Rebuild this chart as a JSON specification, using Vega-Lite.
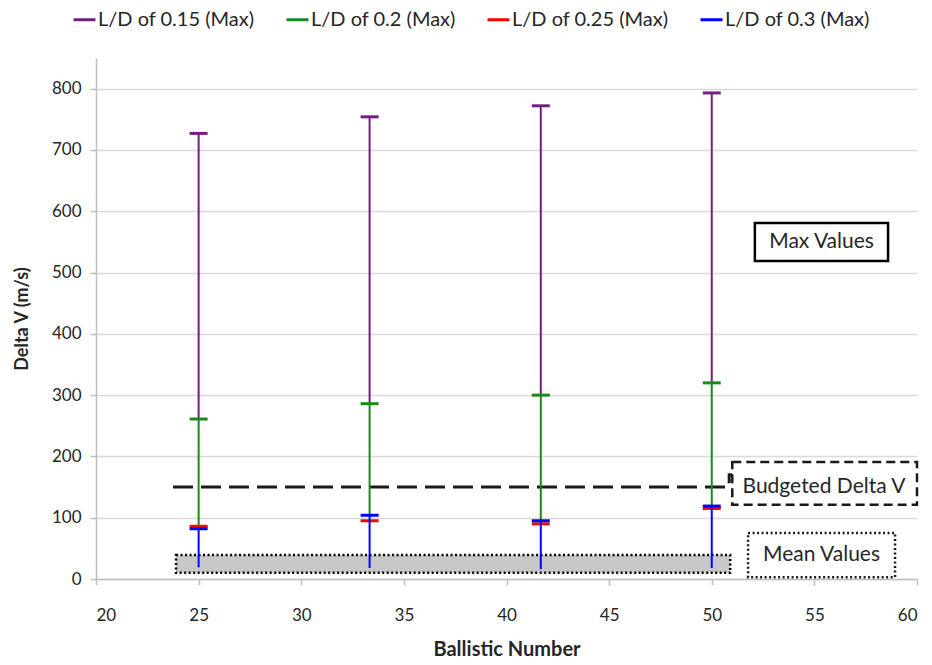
{
  "$schema": "https://vega.github.io/schema/vega-lite/v6.json",
  "width": 821,
  "height": 521,
  "autosize": {"type": "none"},
  "padding": {"left": 96, "top": 58, "right": 15, "bottom": 86},
  "background": "white",
  "config": {
    "font": "Lato",
    "view": {"stroke": null},
    "axis": {"labelFont": "Lato", "titleFont": "Lato", "labelColor": "#262626", "titleColor": "#262626"},
    "legend": {"labelFont": "Lato", "labelColor": "#262626"}
  },
  "datasets": {
    "series": [
      {"series": "L/D of 0.15 (Max)", "bn": 25, "low": 261, "max": 727},
      {"series": "L/D of 0.15 (Max)", "bn": 33.33, "low": 286, "max": 754},
      {"series": "L/D of 0.15 (Max)", "bn": 41.67, "low": 300, "max": 772},
      {"series": "L/D of 0.15 (Max)", "bn": 50, "low": 320, "max": 793},
      {"series": "L/D of 0.2 (Max)", "bn": 25, "low": 86, "max": 261},
      {"series": "L/D of 0.2 (Max)", "bn": 33.33, "low": 104, "max": 286},
      {"series": "L/D of 0.2 (Max)", "bn": 41.67, "low": 95, "max": 300},
      {"series": "L/D of 0.2 (Max)", "bn": 50, "low": 119, "max": 320},
      {"series": "L/D of 0.25 (Max)", "bn": 25, "low": 82, "max": 86},
      {"series": "L/D of 0.25 (Max)", "bn": 33.33, "low": 95, "max": 95},
      {"series": "L/D of 0.25 (Max)", "bn": 41.67, "low": 90, "max": 90},
      {"series": "L/D of 0.25 (Max)", "bn": 50, "low": 115, "max": 115},
      {"series": "L/D of 0.3 (Max)", "bn": 25, "low": 19, "max": 82},
      {"series": "L/D of 0.3 (Max)", "bn": 33.33, "low": 18, "max": 104},
      {"series": "L/D of 0.3 (Max)", "bn": 41.67, "low": 16, "max": 95},
      {"series": "L/D of 0.3 (Max)", "bn": 50, "low": 18, "max": 119}
    ],
    "budget": [
      {"bn": 23.75, "dv": 150, "k": 1},
      {"bn": 50.85, "dv": 150, "k": 2},
      {"bn": 50.85, "dv": 170, "k": 3},
      {"bn": 51.0, "dv": 170, "k": 4}
    ],
    "meanband": [{"bn": 23.9, "bn2": 50.9, "dv": 10, "dv2": 39}],
    "budgetbox": [{"bn": 51.0, "bn2": 60, "dv": 121, "dv2": 191, "xc": 55.47, "yc": 150, "label": "Budgeted Delta V"}],
    "meanbox": [{"bn": 51.77, "bn2": 58.93, "dv": 3, "dv2": 75, "xc": 55.35, "yc": 39, "label": "Mean Values"}],
    "maxbox": [{"bn": 52.1, "bn2": 58.59, "dv": 519, "dv2": 581, "xc": 55.35, "yc": 550, "label": "Max Values"}]
  },
  "layer": [
    {
      "data": {"name": "meanband"},
      "mark": {"type": "rect", "fill": "#c8c8c8", "stroke": "#000000", "strokeDash": [2, 2.5], "strokeWidth": 2.5},
      "encoding": {
        "x": {"field": "bn", "type": "quantitative", "scale": {"domain": [20, 60], "nice": false},
          "axis": {"values": [20, 25, 30, 35, 40, 45, 50, 55, 60], "grid": false, "domainColor": "#bfbfbf", "domainWidth": 1.5, "tickColor": "#bfbfbf", "tickWidth": 1.5, "tickSize": 6, "labelFontSize": 17, "labelPadding": 22, "title": "Ballistic Number", "titleFontSize": 20, "titleFontWeight": "bold", "titlePadding": 16}},
        "x2": {"field": "bn2"},
        "y": {"field": "dv", "type": "quantitative", "scale": {"domain": [0, 850], "nice": false},
          "axis": {"values": [0, 100, 200, 300, 400, 500, 600, 700, 800], "grid": true, "gridColor": "#d9d9d9", "gridWidth": 1.5, "domainColor": "#bfbfbf", "domainWidth": 1.5, "tickColor": "#bfbfbf", "tickWidth": 1.5, "tickSize": 6, "labelFontSize": 17, "labelPadding": 9, "title": "Delta V (m/s)", "titleFontSize": 18, "titleFontWeight": "bold", "titlePadding": 20}},
        "y2": {"field": "dv2"}
      }
    },
    {
      "data": {"name": "budget"},
      "mark": {"type": "line", "color": "#1a1a1a", "strokeDash": [20, 8], "strokeWidth": 3},
      "encoding": {
        "x": {"field": "bn", "type": "quantitative"},
        "y": {"field": "dv", "type": "quantitative"},
        "order": {"field": "k", "type": "quantitative"}
      }
    },
    {
      "data": {"name": "series"},
      "transform": [{"filter": "datum.series === 'L/D of 0.15 (Max)'"}],
      "layer": [
        {"mark": {"type": "rule", "strokeWidth": 2},
          "encoding": {
            "x": {"field": "bn", "type": "quantitative"},
            "y": {"field": "low", "type": "quantitative"},
            "y2": {"field": "max"},
            "color": {"field": "series", "type": "nominal",
              "scale": {"domain": ["L/D of 0.15 (Max)", "L/D of 0.2 (Max)", "L/D of 0.25 (Max)", "L/D of 0.3 (Max)"], "range": ["#741f7f", "#1a891a", "#ff0000", "#0000ff"]},
              "legend": {"title": null, "orient": "none", "direction": "horizontal", "legendX": -24, "legendY": -51, "symbolType": "stroke", "symbolSize": 484, "symbolStrokeWidth": 3, "labelFontSize": 20, "labelOffset": 1, "columnPadding": 25, "labelLimit": 300}}}},
        {"mark": {"type": "tick", "orient": "horizontal", "size": 18, "thickness": 3, "opacity": 1},
          "encoding": {"x": {"field": "bn", "type": "quantitative"}, "y": {"field": "max", "type": "quantitative"}, "color": {"field": "series", "type": "nominal"}}}
      ]
    },
    {
      "data": {"name": "series"},
      "transform": [{"filter": "datum.series === 'L/D of 0.2 (Max)'"}],
      "layer": [
        {"mark": {"type": "rule", "strokeWidth": 2},
          "encoding": {"x": {"field": "bn", "type": "quantitative"}, "y": {"field": "low", "type": "quantitative"}, "y2": {"field": "max"}, "color": {"field": "series", "type": "nominal"}}},
        {"mark": {"type": "tick", "orient": "horizontal", "size": 18, "thickness": 3, "opacity": 1},
          "encoding": {"x": {"field": "bn", "type": "quantitative"}, "y": {"field": "max", "type": "quantitative"}, "color": {"field": "series", "type": "nominal"}}}
      ]
    },
    {
      "data": {"name": "series"},
      "transform": [{"filter": "datum.series === 'L/D of 0.25 (Max)'"}],
      "layer": [
        {"mark": {"type": "rule", "strokeWidth": 2},
          "encoding": {"x": {"field": "bn", "type": "quantitative"}, "y": {"field": "low", "type": "quantitative"}, "y2": {"field": "max"}, "color": {"field": "series", "type": "nominal"}}},
        {"mark": {"type": "tick", "orient": "horizontal", "size": 18, "thickness": 3, "opacity": 1},
          "encoding": {"x": {"field": "bn", "type": "quantitative"}, "y": {"field": "max", "type": "quantitative"}, "color": {"field": "series", "type": "nominal"}}}
      ]
    },
    {
      "data": {"name": "series"},
      "transform": [{"filter": "datum.series === 'L/D of 0.3 (Max)'"}],
      "layer": [
        {"mark": {"type": "rule", "strokeWidth": 2},
          "encoding": {"x": {"field": "bn", "type": "quantitative"}, "y": {"field": "low", "type": "quantitative"}, "y2": {"field": "max"}, "color": {"field": "series", "type": "nominal"}}},
        {"mark": {"type": "tick", "orient": "horizontal", "size": 18, "thickness": 3, "opacity": 1},
          "encoding": {"x": {"field": "bn", "type": "quantitative"}, "y": {"field": "max", "type": "quantitative"}, "color": {"field": "series", "type": "nominal"}}}
      ]
    },
    {
      "data": {"name": "budgetbox"},
      "layer": [
        {"mark": {"type": "rect", "fill": "white", "stroke": "#1a1a1a", "strokeDash": [9, 5], "strokeWidth": 2.5},
          "encoding": {"x": {"field": "bn", "type": "quantitative"}, "x2": {"field": "bn2"}, "y": {"field": "dv", "type": "quantitative"}, "y2": {"field": "dv2"}}},
        {"mark": {"type": "text", "fontSize": 21, "color": "#262626", "font": "Lato"},
          "encoding": {"x": {"field": "xc", "type": "quantitative"}, "y": {"field": "yc", "type": "quantitative"}, "text": {"field": "label"}}}
      ]
    },
    {
      "data": {"name": "meanbox"},
      "layer": [
        {"mark": {"type": "rect", "fill": "white", "stroke": "#1a1a1a", "strokeDash": [2, 2.5], "strokeWidth": 2.5},
          "encoding": {"x": {"field": "bn", "type": "quantitative"}, "x2": {"field": "bn2"}, "y": {"field": "dv", "type": "quantitative"}, "y2": {"field": "dv2"}}},
        {"mark": {"type": "text", "fontSize": 21, "color": "#262626", "font": "Lato"},
          "encoding": {"x": {"field": "xc", "type": "quantitative"}, "y": {"field": "yc", "type": "quantitative"}, "text": {"field": "label"}}}
      ]
    },
    {
      "data": {"name": "maxbox"},
      "layer": [
        {"mark": {"type": "rect", "fill": "white", "stroke": "#000000", "strokeWidth": 2.5},
          "encoding": {"x": {"field": "bn", "type": "quantitative"}, "x2": {"field": "bn2"}, "y": {"field": "dv", "type": "quantitative"}, "y2": {"field": "dv2"}}},
        {"mark": {"type": "text", "fontSize": 21, "color": "#262626", "font": "Lato"},
          "encoding": {"x": {"field": "xc", "type": "quantitative"}, "y": {"field": "yc", "type": "quantitative"}, "text": {"field": "label"}}}
      ]
    }
  ]
}
